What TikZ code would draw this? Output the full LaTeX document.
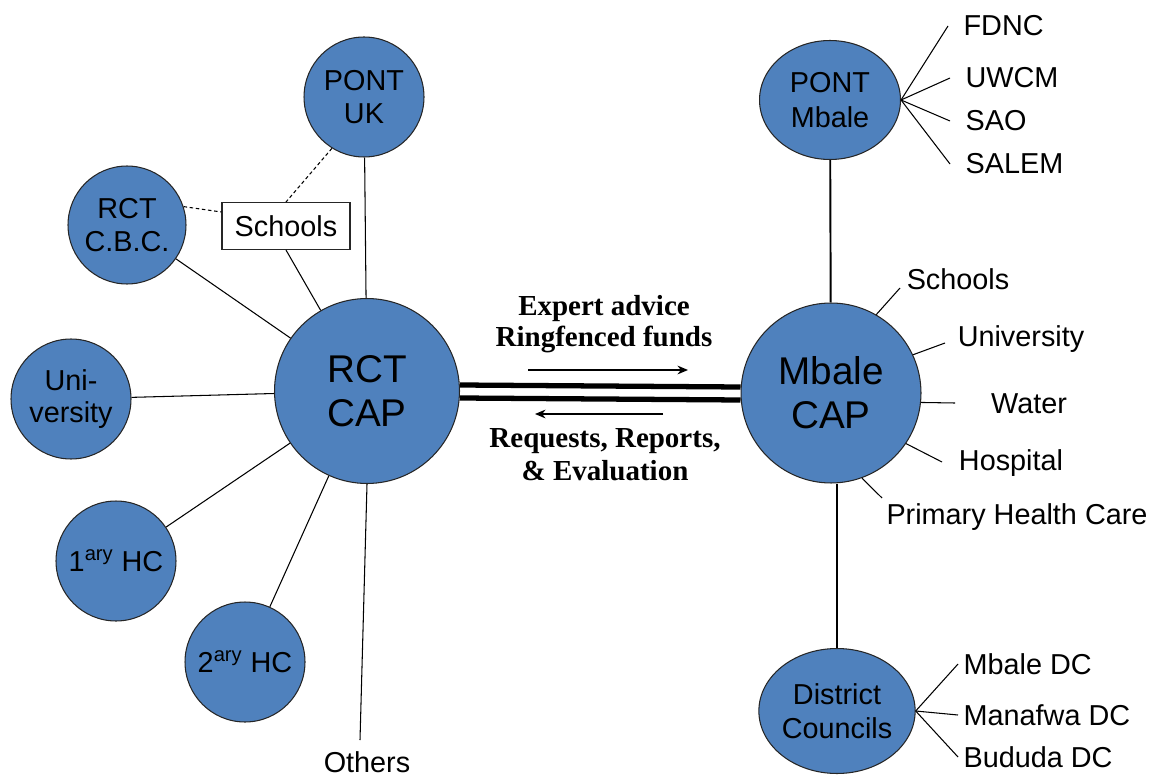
\documentclass[tikz,border=0pt]{standalone}
\usepackage{fontspec}
\setmainfont{Liberation Serif}
\setsansfont{Liberation Sans}
\usetikzlibrary{shapes.geometric,arrows.meta}
\definecolor{capblue}{HTML}{4F81BD}

\begin{document}
\begin{tikzpicture}[
  x=0.02cm, y=-0.02cm,
  capnode/.style={circle, fill=capblue, draw=black!85, line width=0.6pt, inner sep=0pt, minimum size=3.7cm, align=center, font=\sffamily\fontsize{22}{25}\selectfont},
  partnode/.style={circle, fill=capblue, draw=black!85, line width=0.6pt, inner sep=0pt, minimum size=2.4cm, align=center, font=\sffamily\fontsize{16.4}{18.7}\selectfont},
  ovalnode/.style={ellipse, fill=capblue, draw=black!85, line width=0.6pt, inner sep=0pt, align=center, font=\sffamily\fontsize{16.4}{19.5}\selectfont},
  textlbl/.style={inner sep=3pt, font=\sffamily\fontsize{16.4}{19}\selectfont},
  flowtxt/.style={align=center, font=\bfseries\fontsize{16.5}{17.5}\selectfont},
  thinline/.style={line width=0.6pt},
  tieline/.style={line width=1.1pt},
  bondline/.style={line width=3pt},
  dashline/.style={line width=0.6pt, dash pattern=on 2pt off 1.5pt},
  flowarrow/.style={line width=0.85pt, -{Stealth[length=6pt,width=5pt]}}
]
  \useasboundingbox (0,0) rectangle (1155,780);

  % RCT side
  \node[capnode] (rct) at (367,391) {RCT\\CAP};
  \node[partnode] (pontuk) at (364,97) {PONT\\UK};
  \node[partnode, minimum size=2.36cm] (cbc) at (127,225) {RCT\\C.B.C.};
  \node[draw=black!85, fill=white, line width=0.6pt, minimum width=2.56cm, minimum height=0.94cm, font=\sffamily\fontsize{16.4}{19}\selectfont] (schbox) at (286,226) {Schools};
  \node[partnode] (uni) at (71,399) {Uni-\\versity};
  \node[partnode] (hc1) at (116,561) {1\textsuperscript{ary} HC};
  \node[partnode] (hc2) at (245,662) {2\textsuperscript{ary} HC};
  \node[textlbl] (others) at (367,762) {Others};
  \coordinate (othend) at (360,740);

  \draw[thinline] (pontuk) -- (rct);
  \draw[thinline] (schbox.south) -- (rct);
  \draw[thinline] (cbc) -- (rct);
  \draw[thinline] (uni) -- (rct);
  \draw[thinline] (hc1) -- (rct);
  \draw[thinline] (hc2) -- (rct);
  \draw[thinline] (rct.south) -- (othend);
  \draw[dashline] (cbc.18) -- ([yshift=0.28cm]schbox.west);
  \draw[dashline] (pontuk.238) -- (schbox.north);

  % Mbale side
  \node[capnode, minimum size=3.6cm] (mcap) at (831,393) {Mbale\\CAP};
  \node[ovalnode, minimum width=2.82cm, minimum height=2.38cm] (pontmb) at (830,100) {PONT\\Mbale};
  \node[ovalnode, minimum width=2.74cm, minimum height=2.5cm] (dc) at (837,711) {District\\Councils};

  \draw[tieline] (pontmb) -- (mcap);
  \draw[tieline] (dc.north) -- (dc.north |- mcap.south);

  % PONT Mbale partners
  \node[textlbl, anchor=west] (fdnc) at (958,26) {FDNC};
  \node[textlbl, anchor=west] (uwcm) at (960,78) {UWCM};
  \node[textlbl, anchor=west] (sao) at (960,121) {SAO};
  \node[textlbl, anchor=west] (salem) at (960,164) {SALEM};
  \foreach \p in {fdnc,uwcm,sao,salem}
    \draw[thinline] (pontmb.east) -- ([xshift=-0.2cm]\p.west);

  % Mbale CAP sectors
  \node[textlbl] (msch) at (958,279) {Schools};
  \node[textlbl] (muni) at (1021,339) {University};
  \node[textlbl] (mwat) at (1029,404) {Water};
  \node[textlbl] (mhos) at (1011,463) {Hospital};
  \node[textlbl] (mphc) at (1017,517) {Primary Health Care};
  \coordinate (sch_end) at (900,288);
  \coordinate (uni_end) at (945,343);
  \coordinate (wat_end) at (955,403);
  \coordinate (hos_end) at (942,462);
  \coordinate (phc_end) at (882,498);
  \draw[thinline] (mcap.60) -- (sch_end);
  \draw[thinline] (mcap.25) -- (uni_end);
  \draw[thinline] (mcap.-6) -- (wat_end);
  \draw[thinline] (mcap.-34) -- (hos_end);
  \draw[thinline] (mcap.-70) -- (phc_end);

  % District councils
  \node[textlbl, anchor=west] (mbdc) at (958,664) {Mbale DC};
  \node[textlbl, anchor=west] (mfdc) at (958,715) {Manafwa DC};
  \node[textlbl, anchor=west] (bddc) at (958,757) {Bududa DC};
  \foreach \d in {mbdc,mfdc,bddc}
    \draw[thinline] (dc.east) -- (\d.west);

  % link between the two CAPs
  \draw[bondline] ([yshift=0.12cm]rct.east) -- ([yshift=0.12cm]mcap.west);
  \draw[bondline] ([yshift=-0.14cm]rct.east) -- ([yshift=-0.14cm]mcap.west);

  \node[flowtxt] (give) at (604,324) {Expert advice\\Ringfenced funds};
  \node[flowtxt, font=\bfseries\fontsize{16.5}{18.7}\selectfont] (back) at (605,455) {Requests, Reports,\\\& Evaluation};
  \coordinate (fw1) at (528,370);
  \coordinate (fw2) at (688,370);
  \coordinate (bw1) at (663,414);
  \coordinate (bw2) at (535,414);
  \draw[flowarrow] (fw1) -- (fw2);
  \draw[flowarrow] (bw1) -- (bw2);

\end{tikzpicture}
\end{document}
